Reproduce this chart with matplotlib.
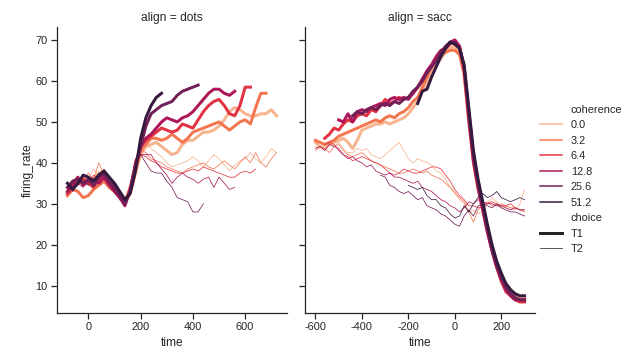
import numpy as np
import matplotlib.pyplot as plt
from matplotlib.lines import Line2D

plt.rcParams['font.family'] = ['Liberation Sans', 'DejaVu Sans']
plt.rcParams['text.color'] = '.15'
plt.rcParams['axes.labelcolor'] = '.15'
plt.rcParams['xtick.color'] = '.15'
plt.rcParams['ytick.color'] = '.15'
plt.rcParams['axes.unicode_minus'] = False

coherence = ["0.0", "3.2", "6.4", "12.8", "25.6", "51.2"]
palette = ["#f6b48f", "#f37651", "#e13342", "#ad1759", "#701f57", "#35193e"]
choices = ["T1", "T2"]
choice_width = {"T1": 3.0, "T2": 0.75}

# firing rate sampled every 20 ms, first value at the start time
dots_start = {"T1": [-80] * 6, "T2": [-80] * 5}
dots_T1 = [
    [33, 34.5, 35.5, 36.5, 35, 36, 37.5, 38, 36, 34.5, 33, 31, 33, 38,
     42, 44, 44.5, 45, 44, 43, 42, 42.5, 44.5, 45.5, 45.5, 46.5, 47.5, 47.5,
     48, 49, 50.5, 52.5, 53.5, 53, 52, 51.5, 51.5, 52, 52, 53, 51.5],
    [32, 33.5, 33, 31.5, 32, 33.5, 34.5, 35.5, 34, 33, 31.5, 30.5, 32.5, 37.5,
     43, 44.5, 46, 46, 45.5, 46, 47, 46, 45, 46, 47.5, 48, 48.5, 49, 49.5,
     50, 49, 48, 49, 50, 50.5, 49.5, 53.5, 57, 57],
    [32.5, 34, 35.5, 36, 35, 34, 36, 37, 35, 33.5, 32, 30.5, 33, 38.5,
     44, 45.5, 46.5, 47.5, 48.5, 48, 47.5, 48, 49.5, 49, 48.5, 50.5, 52.5,
     54, 55, 55.5, 54, 52, 51.5, 54, 58.5, 58.5],
    [33, 35, 36.5, 34.5, 35.5, 36, 35, 36.5, 34.5, 33, 31.5, 29.5, 33.5, 39.5,
     44, 46, 47, 48.5, 50, 51, 50.5, 50, 51, 51.5, 52.5, 54, 55.5, 57, 58,
     58, 57, 56.5, 57.5],
    [34, 35.5, 36, 35, 36, 34.5, 36.5, 37.5, 35.5, 34, 32, 30, 33, 39,
     44, 49, 52, 53, 54, 54.5, 55, 56.5, 57.5, 58, 58.5, 59],
    [35, 33.5, 35, 37, 36.5, 35.5, 37, 38, 36.5, 35, 33, 31, 32.5, 38,
     46, 51, 54, 56, 57],
]
dots_T2 = [
    [34, 36, 35, 37, 36, 38.5, 37, 36, 35, 34, 32.5, 31.5, 34, 40,
     43, 44.5, 43.5, 42.5, 41.5, 40, 39, 39.5, 40, 40.5, 41.5, 40.5, 39,
     40.5, 42, 41, 39.5, 38, 39.5, 40.5, 41, 42.5, 41, 40, 41.5, 43.5, 42.5],
    [35, 34, 36.5, 35.5, 37.5, 36, 40, 37, 36, 34, 33, 31, 35, 41,
     43, 42.5, 41, 40.5, 40, 39, 38.5, 38, 37.5, 38.5, 39, 39.5, 40, 39,
     38.5, 39.5, 40.5, 39.5, 38.5, 40, 41.5, 40, 42.5, 40, 39, 41, 42.5],
    [33.5, 35, 34.5, 36, 35, 37, 36, 38.5, 35.5, 35, 32, 30.5, 34.5, 41,
     42, 41.5, 40.5, 40, 39, 38.5, 38, 37.5, 37.5, 38, 38.5, 38, 39, 38.5,
     38, 37.5, 37, 36.5, 36.5, 37.5, 38, 37.5, 38.5],
    [34.5, 33, 35, 34, 36.5, 35.5, 37.5, 36, 34.5, 33.5, 31, 30, 34, 40.5,
     42, 42, 42, 40, 38.5, 37, 35, 36.5, 37.5, 36.5, 36, 35, 36, 36.5, 34,
     36.5, 35, 33.5, 34],
    [33, 34, 36, 35.5, 34.5, 36, 36.5, 37, 35, 33, 31.5, 30, 33.5, 40,
     42, 40, 38, 37.5, 37.5, 35.5, 34, 31.5, 31, 30.5, 28, 28, 30],
]

sacc_start = {"T1": [-600, -600, -560, -500, -440, -160],
              "T2": [-600, -600, -560, -600, -320, -200]}
sacc_T1 = [
    [45, 44, 43.5, 44.5, 45, 45.5, 46, 45, 43.5, 45.5, 48, 48.5, 49, 49.5,
     49.5, 50, 49.5, 50, 50.5, 51, 52, 53.5, 55, 57.5, 60, 62, 64, 65.5, 67,
     68, 68.5, 67, 62, 50.5, 40.5, 34, 29, 24, 19.5, 15.5, 12.5, 10, 8.5,
     7.5, 7, 7],
    [45.5, 45, 44.5, 45, 45.5, 46.5, 47, 47.5, 48, 48.5, 49, 49.5, 50, 50.5,
     50, 51, 51.5, 51, 52, 52.5, 53.5, 55, 56, 58.5, 61, 63.5, 65.5, 66.5,
     67, 67.5, 67.5, 66.5, 61.5, 50, 40, 33.5, 28.5, 23.5, 19, 15, 12, 9.5,
     8, 7, 6.5, 6.5],
    [46, 47, 48.5, 48, 49.5, 50.5, 50, 51.5, 52, 51.5, 53, 52.5, 54, 55.5,
     54.5, 55, 56, 55.5, 56, 57, 58.5, 60, 62, 63.5, 65.5, 67, 68, 69, 70,
     68.5, 63, 51.5, 41, 34.5, 29, 23.5, 18.5, 14.5, 11, 8.5, 7.5, 6.5, 6, 6],
    [50.5, 50, 52, 50, 52.5, 53, 52.5, 53.5, 54, 54.5, 54, 55.5, 56, 55.5,
     56, 55.5, 57, 58.5, 60.5, 62.5, 64, 66, 67.5, 68, 69.5, 70, 68.5, 63,
     51, 40.5, 34, 28.5, 23, 18.5, 14.5, 11.5, 9, 7.5, 6.5, 6.5, 6.5],
    [51.5, 52.5, 52, 53, 53.5, 53, 54, 54.5, 54, 55, 54.5, 55.5, 56, 57.5,
     58.5, 60, 62, 63.5, 65, 67, 68.5, 69.5, 69.5, 68, 63.5, 52.5, 42, 35,
     29.5, 24, 19, 15, 12, 9.5, 8, 7, 6.5, 6.5],
    [54.5, 57.5, 58, 61, 63.5, 66, 68, 69.5, 69, 68, 64, 53.5, 43, 36, 30.5,
     25, 20, 16, 13, 10.5, 9, 8, 7.5, 7.5],
]
sacc_T2 = [
    [44, 43.5, 44.5, 45, 44, 45, 43.5, 42.5, 42.5, 43.5, 43, 43.5, 42, 41.5,
     41, 42, 43, 44, 45, 43, 41, 40, 41, 40.5, 40, 39.5, 38, 37.5, 36, 34,
     33, 31, 30, 28, 28.5, 27.5, 28, 30, 31.5, 30.5, 29, 29.5, 29, 28.5, 30,
     33.5],
    [43, 44, 43.5, 42.5, 44, 44.5, 43, 42, 41.5, 42, 42.5, 41.5, 40.5, 40,
     39.5, 39, 38.5, 38, 37.5, 37.5, 38, 38.5, 38, 37.5, 38, 37, 36.5, 36,
     35, 34, 32.5, 31.5, 30.5, 28, 25.5, 28.5, 29.5, 30.5, 29.5, 29.5, 30,
     29.5, 29, 29, 28.5, 28],
    [44.5, 45, 44.5, 43, 42, 41.5, 40.5, 41, 41.5, 41, 40.5, 40, 39.5, 38.5,
     37.5, 37, 37.5, 38.5, 38, 37.5, 37.5, 38, 38.5, 39, 39, 38.5, 37, 35.5,
     33.5, 32, 31, 29.5, 29.5, 29, 29.5, 30, 30.5, 30, 29.5, 29.5, 30, 29,
     28.5, 28.5],
    [43.5, 44, 43, 44.5, 44, 43.5, 42, 41, 41.5, 40.5, 40, 39, 39.5, 38,
     37.5, 37, 37.5, 36.5, 36.5, 36, 35.5, 35, 35.5, 34, 33.5, 33, 32, 31,
     30.5, 29.5, 29, 28, 29, 30.5, 30, 31, 30.5, 30, 30, 29.5, 29.5, 29,
     28.5, 29, 28.5, 28.5],
    [37, 36.5, 34.5, 34, 33, 32.5, 33, 32, 31, 31.5, 29.5, 29, 28.5, 27.5,
     27, 26, 25, 24.5, 27, 28.5, 27, 29.5, 30, 29.5, 29, 30, 29, 28.5, 28,
     28, 27.5, 27],
    [34.5, 34, 33.5, 34, 32, 31, 31, 29.5, 29, 27.5, 26.5, 27, 29.5, 28, 30,
     31.5, 32.5, 31.5, 32, 33, 31.5, 31, 30.5, 31, 31.5, 31],
]

panels = [
    ("dots", dots_start, {"T1": dots_T1, "T2": dots_T2}, [0, 200, 400, 600], (-120, 760)),
    ("sacc", sacc_start, {"T1": sacc_T1, "T2": sacc_T2}, [-600, -400, -200, 0, 200], (-645, 345)),
]

fig = plt.figure(figsize=(631 / 72, 360 / 72), dpi=72)
ax1 = fig.add_axes([57 / 631, 47 / 360, 230 / 631, 286 / 360])
ax2 = fig.add_axes([305 / 631, 47 / 360, 230 / 631, 286 / 360], sharey=ax1)

for ax, (align, starts, series, xticks, xlim) in zip([ax1, ax2], panels):
    for i in range(len(coherence)):
        for ch in choices:
            if i >= len(series[ch]):
                continue
            vals = np.array(series[ch][i])
            t = starts[ch][i] + 20 * np.arange(len(vals))
            ax.plot(t, vals, color=palette[i], lw=choice_width[ch])
    ax.set_title(f"align = {align}", fontsize=12)
    ax.set_xlabel("time", fontsize=12)
    ax.set_xticks(xticks)
    ax.set_xlim(*xlim)
    for s in ["top", "right"]:
        ax.spines[s].set_visible(False)
    for s in ["left", "bottom"]:
        ax.spines[s].set_linewidth(1.25)
        ax.spines[s].set_color(".15")
    ax.tick_params(direction="out", length=6, width=1.25, labelsize=11)

ax1.set_ylim(3.3, 73.2)
ax1.set_yticks([10, 20, 30, 40, 50, 60, 70])
ax1.set_ylabel("firing_rate", fontsize=12, labelpad=1)
ax2.tick_params(labelleft=False)

blank = Line2D([], [], color="none")
handles = [blank] + [Line2D([], [], color=c, lw=1.5) for c in palette]
handles += [blank] + [Line2D([], [], color=".15", lw=choice_width[ch]) for ch in choices]
labels = ["coherence"] + coherence + ["choice"] + choices
fig.legend(handles, labels, loc="center left", bbox_to_anchor=(0.840, 0.502),
           frameon=False, fontsize=11)

fig.savefig("out.png", dpi=72)
